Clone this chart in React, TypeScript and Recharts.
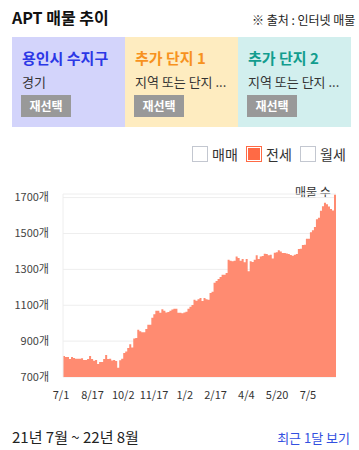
import { Area, AreaChart, CartesianGrid, XAxis, YAxis } from "recharts";

// 전세 listing counts, one reading every 3 days starting 2021-07-01
const STEP_DAYS = 3;
const jeonseCounts = [
  817, 812, 812, 800, 812, 806, 802, 802, 802, 805, 795, 795, 800, 817, 800, 791, 795, 773, 784, 784,
  800, 823, 800, 802, 792, 795, 789, 752, 794, 802, 834, 842, 862, 883, 865, 914, 918, 964, 955, 950,
  950, 968, 991, 991, 1030, 1050, 1069, 1069, 1058, 1078, 1069, 1060, 1062, 1069, 1076, 1080, 1080, 1058, 1058, 1056,
  1060, 1063, 1080, 1092, 1102, 1130, 1125, 1134, 1141, 1123, 1141, 1134, 1130, 1168, 1175, 1225, 1235, 1246, 1257, 1270,
  1270, 1280, 1354, 1348, 1345, 1348, 1371, 1363, 1348, 1358, 1339, 1358, 1289, 1345, 1341, 1354, 1378, 1358, 1372, 1374,
  1387, 1385, 1378, 1382, 1360, 1393, 1395, 1406, 1399, 1391, 1391, 1389, 1385, 1380, 1376, 1382, 1385, 1413, 1415, 1436,
  1437, 1471, 1471, 1507, 1518, 1536, 1579, 1587, 1626, 1652, 1671, 1663, 1650, 1637, 1628, 1716, 1706,
];

const tickDays = [0, 47, 93, 139, 185, 231, 277, 323, 369];
const tickLabels = ["7/1", "8/17", "10/2", "11/17", "1/2", "2/17", "4/4", "5/20", "7/5"];
const yTicks = [700, 900, 1100, 1300, 1500, 1700];

const chartData = jeonseCounts.map((v, i) => ({ day: i * STEP_DAYS, v }));

const regions = [
  { title: "용인시 수지구", sub: "경기", bg: "#d3d4fb", color: "#2b37e6" },
  { title: "추가 단지 1", sub: "지역 또는 단지 ...", bg: "#feecc0", color: "#f7921e" },
  { title: "추가 단지 2", sub: "지역 또는 단지 ...", bg: "#d2efee", color: "#129d8e" },
];

const legendItems = [
  { label: "매매", on: false },
  { label: "전세", on: true },
  { label: "월세", on: false },
];

const FONT = "'Noto Sans CJK KR', 'Noto Sans', sans-serif";

export default function App() {
  return (
    <div
      style={{
        position: "absolute",
        left: 0,
        top: 0,
        width: 359,
        height: 450,
        overflow: "hidden",
        background: "#fff",
        fontFamily: FONT,
        color: "#222",
      }}
    >
      <div style={{ position: "absolute", left: 12, top: 5, fontSize: 16, fontWeight: 700, color: "#111" }}>
        APT 매물 추이
      </div>
      <div style={{ position: "absolute", left: 252, top: 11, fontSize: 12, whiteSpace: "nowrap", color: "#222" }}>
        ※ 출처 : 인터넷 매물
      </div>

      {regions.map((r, i) => (
        <div
          key={r.title}
          style={{
            position: "absolute",
            left: 12 + i * 113,
            top: 37,
            width: 113,
            height: 90,
            background: r.bg,
          }}
        >
          <div style={{ position: "absolute", left: 10, top: 10, fontSize: 15, fontWeight: 700, color: r.color, whiteSpace: "nowrap" }}>
            {r.title}
          </div>
          <div style={{ position: "absolute", left: 10, top: 35, fontSize: 13, color: "#333", whiteSpace: "nowrap" }}>
            {r.sub}
          </div>
          <div
            style={{
              position: "absolute",
              left: 9,
              top: 58,
              width: 50,
              height: 22,
              background: "#999",
              color: "#fff",
              fontSize: 12,
              fontWeight: 700,
              lineHeight: "22px",
              textAlign: "center",
            }}
          >
            재선택
          </div>
        </div>
      ))}

      {legendItems.map((it, i) => (
        <div key={it.label} style={{ position: "absolute", left: 192 + i * 54, top: 144, display: "flex", alignItems: "center" }}>
          <span
            style={{
              display: "inline-block",
              boxSizing: "border-box",
              width: 16,
              height: 16,
              border: it.on ? "1px solid #ff6a45" : "1px solid #c3c7d0",
              background: it.on ? "#ff6a45" : "#fff",
              boxShadow: it.on ? "inset 0 0 0 1px #fff" : "none",
            }}
          />
          <span style={{ marginLeft: 4, fontSize: 14, color: "#333" }}>{it.label}</span>
        </div>
      ))}

      <div style={{ position: "absolute", left: 295, top: 183, fontSize: 12, color: "#333" }}>매물 수</div>

      <div style={{ position: "absolute", left: 0, top: 180 }}>
        <AreaChart width={359} height={230} data={chartData} margin={{ top: 14, right: 23, bottom: 0, left: 0 }}>
          <CartesianGrid vertical={false} stroke="#eeeeee" />
          <XAxis
            dataKey="day"
            type="number"
            domain={[0, 408]}
            ticks={tickDays}
            interval={0}
            tickFormatter={(d: number) => tickLabels[tickDays.indexOf(d)] ?? ""}
            axisLine={false}
            tickLine={false}
            tickSize={6}
            tickMargin={8}
            height={33}
            tick={{ fontSize: 11, fill: "#333", fontFamily: FONT, dx: -2 }}
          />
          <YAxis
            type="number"
            domain={[700, 1720]}
            ticks={yTicks}
            interval={0}
            tickFormatter={(v: number) => `${v}개`}
            axisLine={{ stroke: "#eeeeee" }}
            tickLine={false}
            tickSize={6}
            tickMargin={8}
            width={63}
            tick={{ fontSize: 11, fill: "#444", fontFamily: FONT }}
          />
          <Area
            dataKey="v"
            type="stepAfter"
            stroke="none"
            fill="#ff8b71"
            fillOpacity={1}
            isAnimationActive={false}
            dot={false}
            activeDot={false}
          />
        </AreaChart>
      </div>

      <div style={{ position: "absolute", left: 12, top: 426, fontSize: 15, color: "#222" }}>21년 7월 ~ 22년 8월</div>
      <div style={{ position: "absolute", right: 9, top: 428, fontSize: 13, color: "#3350e0" }}>최근 1달 보기</div>
    </div>
  );
}
